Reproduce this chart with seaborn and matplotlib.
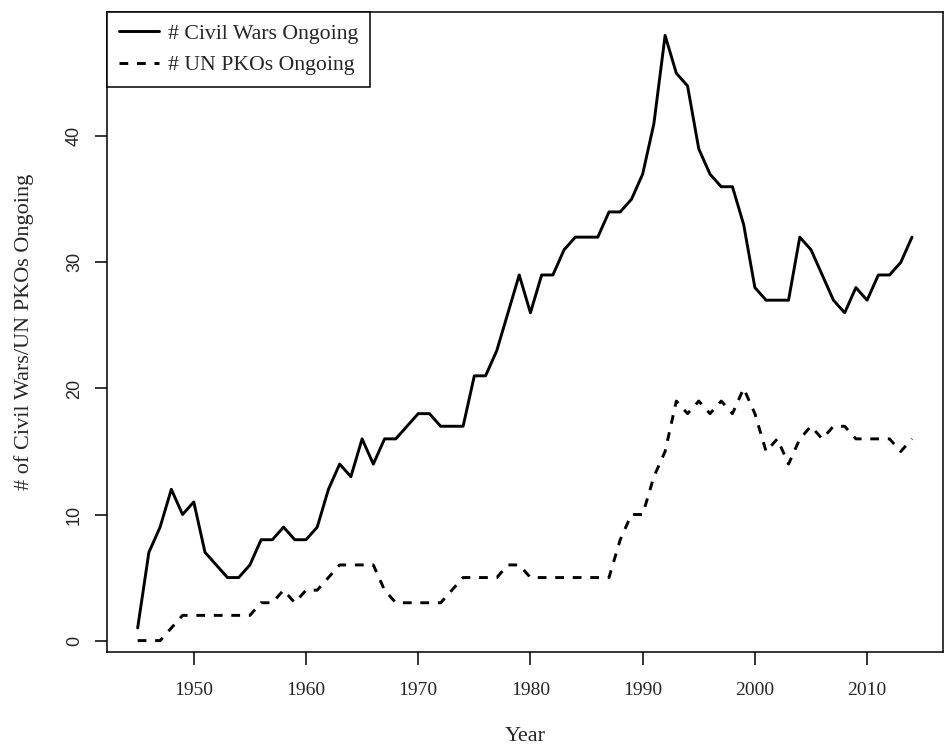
import pandas as pd
import matplotlib.pyplot as plt
import seaborn as sns

# Values
years = list(range(1945, 2015))
civil_wars = [1, 7, 9, 12, 10, 11, 7, 6, 5, 5,
              6, 8, 8, 9, 8, 8, 9, 12, 14, 13,
              16, 14, 16, 16, 17, 18, 18, 17, 17, 17,
              21, 21, 23, 26, 29, 26, 29, 29, 31, 32,
              32, 32, 34, 34, 35, 37, 41, 48, 45, 44,
              39, 37, 36, 36, 33, 28, 27, 27, 27, 32,
              31, 29, 27, 26, 28, 27, 29, 29, 30, 32]
un_pkos = [0, 0, 0, 1, 2, 2, 2, 2, 2, 2,
           2, 3, 3, 4, 3, 4, 4, 5, 6, 6,
           6, 6, 4, 3, 3, 3, 3, 3, 4, 5,
           5, 5, 5, 6, 6, 5, 5, 5, 5, 5,
           5, 5, 5, 8, 10, 10, 13, 15, 19, 18,
           19, 18, 19, 18, 20, 18, 15, 16, 14, 16,
           17, 16, 17, 17, 16, 16, 16, 16, 15, 16]
series_names = ["# Civil Wars Ongoing", "# UN PKOs Ongoing"]
x_ticks = [1950, 1960, 1970, 1980, 1990, 2000, 2010]
y_ticks = [0, 10, 20, 30, 40]

df = pd.DataFrame({
    "Year": years + years,
    "Count": civil_wars + un_pkos,
    "Series": [series_names[0]] * len(years) + [series_names[1]] * len(years),
})

sns.set_style("white")
plt.rcParams["font.family"] = ["Liberation Serif", "DejaVu Serif"]

fig = plt.figure(figsize=(9.5, 7.47), dpi=100)
ax = fig.add_axes([0.1123, 0.1276, 0.8803, 0.8567])

sns.lineplot(data=df, x="Year", y="Count", style="Series", color="black",
             dashes={series_names[0]: "", series_names[1]: (3, 3)},
             linewidth=2.1, errorbar=None, ax=ax)

# R-like default padding
ax.set_xlim(1942.24, 2016.76)
ax.set_ylim(-0.88, 49.88)
ax.set_xticks(x_ticks)
ax.set_yticks(y_ticks)

for side in ["left", "right", "top", "bottom"]:
    ax.spines[side].set_visible(True)
    ax.spines[side].set_color("black")
    ax.spines[side].set_linewidth(1.1)

ax.tick_params(axis="both", direction="out", length=9, width=1.1,
               color="black", bottom=True, left=True)
ax.tick_params(axis="x", labelsize=14, pad=13)
ax.tick_params(axis="y", labelsize=13, pad=8, labelrotation=90,
               labelfontfamily="Liberation Sans")
for lbl in ax.get_yticklabels():
    lbl.set_va("center")

ax.set_xlabel("Year", fontsize=16, labelpad=20)
ax.set_ylabel("# of Civil Wars/UN PKOs Ongoing", fontsize=16, labelpad=22.8)

handles, labels = ax.get_legend_handles_labels()
keep = [(h, l) for h, l in zip(handles, labels) if l in series_names]
leg = ax.legend([h for h, l in keep], [l for h, l in keep], loc="upper left",
                fontsize=15.7, frameon=True, fancybox=False, framealpha=1,
                edgecolor="black", borderaxespad=0, borderpad=0.55,
                handlelength=1.85, handletextpad=0.4, labelspacing=0.5)
leg.get_frame().set_linewidth(1.1)

fig.savefig("out.png", dpi=100)
